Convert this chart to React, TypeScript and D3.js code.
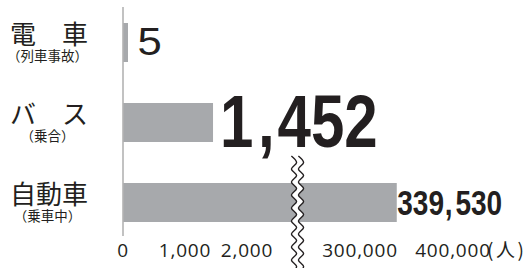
import React from "react";
import * as d3 from "d3";

const categories = ["電　車", "バ　ス", "自動車"];
const subLabels = ["（列車事故）", "（乗合）", "（乗車中）"];
const values = [5, 1452, 339530];
const valueLabels = ["5", "1,452", "339,530"];
const leftTicks = [0, 1000, 2000];
const rightTicks = [300000, 400000];
const unitLabel = "(人)";

const W = 530;
const H = 268;
const BREAK_VALUE = 2500;
const MIN_BAR = 5;

const JP = "'Noto Sans CJK JP', 'Noto Sans', sans-serif";
const NUM = "'Open Sans', 'Noto Sans', 'DejaVu Sans', sans-serif";
const SANS = "'Liberation Sans', Arial, sans-serif";

export default function App() {
  const xLeft = d3.scaleLinear().domain([0, 2000]).range([123, 247]);
  const xRight = d3.scaleLinear().domain([300000, 400000]).range([360, 453]);
  const x = (v: number) => (v <= BREAK_VALUE ? xLeft(v) : xRight(v));
  const y = d3
    .scaleBand<string>()
    .domain(categories)
    .range([2.5, 242.5])
    .paddingInner(0.5125)
    .paddingOuter(0.25625);
  const bw = y.bandwidth();
  const barEnd = (v: number) => Math.max(x(v), xLeft(0) + MIN_BAR);

  // break decoration (wavy double line)
  const breakX = 294;
  const gap = 7;
  const ys = d3.range(156, 276, 6.5);
  const pts = ys.map((yy, i) => ({ y: yy, dx: i % 2 === 0 ? -2.6 : 2.6 }));
  const lineL = d3
    .line<{ y: number; dx: number }>()
    .x((d) => breakX + d.dx)
    .y((d) => d.y)
    .curve(d3.curveCardinal);
  const lineR = d3
    .line<{ y: number; dx: number }>()
    .x((d) => breakX + gap + d.dx)
    .y((d) => d.y)
    .curve(d3.curveCardinal);
  const area = d3
    .area<{ y: number; dx: number }>()
    .y((d) => d.y)
    .x0((d) => breakX + d.dx)
    .x1((d) => breakX + gap + d.dx)
    .curve(d3.curveCardinal);

  const valueStyles = [
    { size: 39, weight: 400, sx: 1.12, dx: 9.5, base: 12.5, before: 0, after: 0 },
    { size: 75, weight: 700, sx: 0.8, dx: 7, base: 24.5, before: 0.075, after: 0.05 },
    { size: 35, weight: 700, sx: 0.8, dx: 0.5, base: 12.5, before: 0.03, after: 0.1 },
  ];

  return (
    <svg
      width={W}
      height={H}
      style={{ position: "absolute", left: 0, top: 0, background: "#fff" }}
    >
      {/* bars */}
      {values.map((v, i) => (
        <rect
          key={i}
          x={xLeft(0)}
          y={y(categories[i])}
          width={barEnd(v) - xLeft(0)}
          height={bw}
          fill="#a7a9ac"
        />
      ))}

      {/* axis line */}
      <line x1={xLeft(0)} x2={xLeft(0)} y1={7} y2={236} stroke="#b3b3b3" strokeWidth={1.6} />

      {/* break */}
      <path d={area(pts) || ""} fill="#fff" />
      <path d={lineL(pts) || ""} fill="none" stroke="#231f20" strokeWidth={1.4} />
      <path d={lineR(pts) || ""} fill="none" stroke="#231f20" strokeWidth={1.4} />

      {/* value labels */}
      {values.map((v, i) => {
        const s = valueStyles[i];
        const cy = (y(categories[i]) as number) + bw / 2;
        const parts = valueLabels[i].split(",");
        return (
          <text
            key={i}
            transform={`translate(${barEnd(v) + s.dx},${cy + s.base}) scale(${s.sx},1)`}
            fontFamily={SANS}
            fontSize={s.size}
            fontWeight={s.weight}
            fill="#231f20"
          >
            {parts.length === 1 ? (
              parts[0]
            ) : (
              <>
                <tspan>{parts[0]}</tspan>
                <tspan dx={s.before * s.size}>,</tspan>
                <tspan dx={s.after * s.size}>{parts[1]}</tspan>
              </>
            )}
          </text>
        );
      })}

      {/* category labels */}
      {categories.map((c, i) => {
        const cy = (y(c) as number) + bw / 2;
        return (
          <g key={c}>
            <text x={49} y={cy + 1.5} textAnchor="middle" fontFamily={JP} fontSize={26} fill="#231f20">
              {c}
            </text>
            <text x={47.5} y={cy + 18} textAnchor="middle" fontFamily={JP} fontSize={13.5} fill="#231f20">
              {subLabels[i]}
            </text>
          </g>
        );
      })}

      {/* tick labels */}
      {leftTicks.map((t) => (
        <text
          key={t}
          x={xLeft(t)}
          y={257}
          textAnchor="middle"
          fontFamily={NUM}
          fontSize={19}
          letterSpacing={0.8}
          fill="#231f20"
        >
          {d3.format(",")(t)}
        </text>
      ))}
      {rightTicks.map((t) => (
        <text
          key={t}
          x={xRight(t)}
          y={257}
          textAnchor="middle"
          fontFamily={NUM}
          fontSize={19}
          letterSpacing={0.8}
          fill="#231f20"
        >
          {d3.format(",")(t)}
        </text>
      ))}
      <text
        x={xRight(400000) + 34}
        y={257}
        fontFamily={JP}
        fontSize={19}
        letterSpacing={2.5}
        fill="#231f20"
      >
        {unitLabel}
      </text>
    </svg>
  );
}
